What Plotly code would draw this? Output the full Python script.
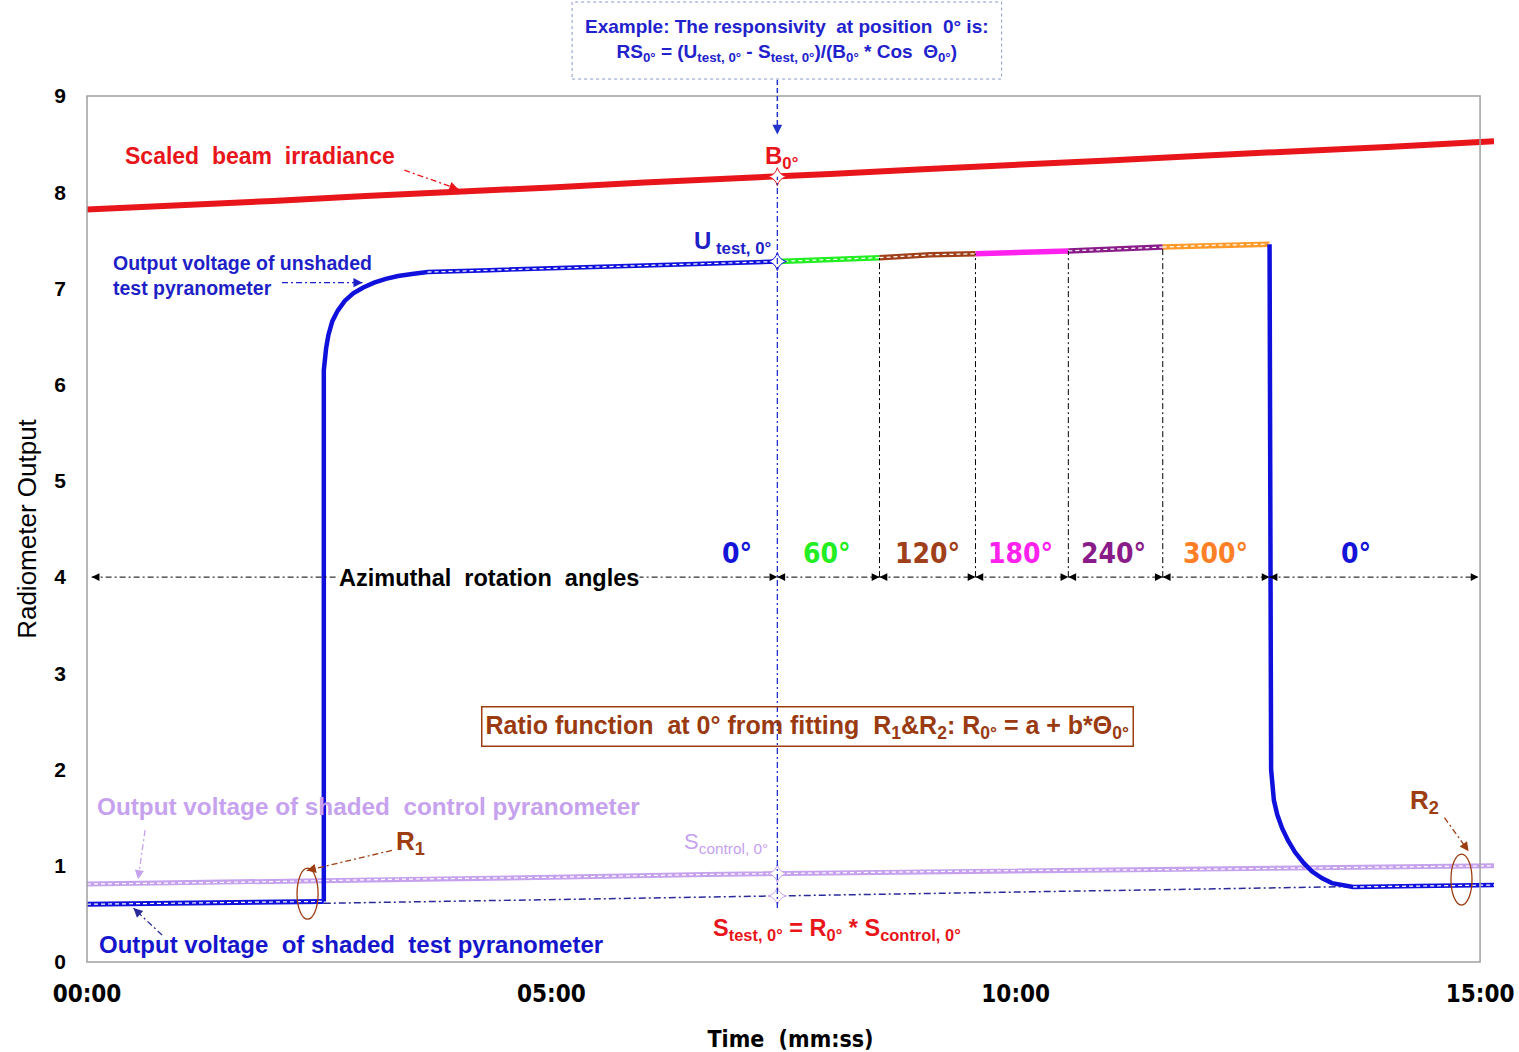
import numpy as np
import plotly.graph_objects as go

# ---------------------------------------------------------------------------
# Data (time in seconds from start of run, outputs in radiometer units)
# ---------------------------------------------------------------------------
beam_t = [0, 60, 120, 180, 240, 300, 360, 420, 480, 540, 600, 660, 720, 780, 840, 909]
beam_v = [7.82, 7.86, 7.91, 7.96, 8.00, 8.05, 8.10, 8.14, 8.19, 8.24, 8.28, 8.33, 8.38, 8.42, 8.47, 8.53]

ctrl_t = [0, 100, 200, 300, 400, 500, 600, 700, 800, 909]
ctrl_v = [0.81, 0.83, 0.86, 0.88, 0.91, 0.93, 0.95, 0.96, 0.98, 1.00]

shade1_t = [0, 60, 120, 153]
shade1_v = [0.60, 0.61, 0.62, 0.63]

rise_t = [153, 153, 154.5, 156, 158.5, 162, 166.5, 172, 178.5, 185.5, 193, 201, 210, 220,
          260, 300, 360, 420, 446]
rise_v = [0.63, 6.15, 6.38, 6.52, 6.66, 6.77, 6.87, 6.95, 7.01, 7.06, 7.10, 7.13, 7.15, 7.17,
          7.19, 7.21, 7.24, 7.27, 7.28]

seg_t = [[446, 480, 512], [512, 545, 574], [574, 604, 634], [634, 665, 695], [695, 730, 764]]
seg_v = [[7.28, 7.30, 7.32], [7.32, 7.35, 7.36], [7.36, 7.38, 7.39], [7.39, 7.41, 7.43], [7.43, 7.45, 7.46]]
seg_colors = ["#22EE22", "#A0401A", "#FF22EE", "#8A1C8A", "#FF9A2A"]

drop_t = [764, 765, 766.8, 769, 772.1, 776, 780.5, 786, 791.5, 798, 804.3, 811, 818, 860, 909]
drop_v = [7.46, 2.0, 1.68, 1.53, 1.39, 1.26, 1.14, 1.03, 0.94, 0.87, 0.82, 0.80, 0.78, 0.79, 0.80]

interp_t = [153, 822]
interp_v = [0.61, 0.785]

angle_bounds = [3, 446, 512, 574, 634, 695, 764, 899]
angle_labels = ["0°", "60°", "120°", "180°", "240°", "300°", "0°"]
angle_label_t = [420, 478, 543, 603, 663, 729, 820]
angle_label_colors = ["#1414D8", "#22EE22", "#A0401A", "#FF22EE", "#8A1C8A", "#FF7F27", "#1414D8"]

example_t = 446
x_max = 909
xtick_vals = [0, 300, 600, 900]
xtick_text = ["00:00", "05:00", "10:00", "15:00"]
ytick_vals = list(range(0, 10))

RED = "#E8151B"
BLUE = "#1010DD"
LAV = "#C6A2EE"
NAVY = "#2A2A9A"
BROWN = "#9C3D12"
COND = "DejaVu Sans Condensed, Liberation Sans Narrow, sans-serif"

fig = go.Figure()


def add_line(t, v, color, width, dash=None):
    fig.add_trace(go.Scatter(x=t, y=v, mode="lines",
                             line=dict(color=color, width=width, dash=dash),
                             hoverinfo="skip", showlegend=False))


# shaded control pyranometer
add_line(ctrl_t, ctrl_v, LAV, 5)
add_line(ctrl_t, ctrl_v, "white", 1.2, "4px,3px")
# fitted shaded-test baseline
add_line(interp_t, interp_v, NAVY, 1.5, "7px,3px,2px,3px")
# test pyranometer
add_line(shade1_t, shade1_v, BLUE, 5)
add_line(shade1_t, shade1_v, "white", 1.2, "4px,3px")
add_line(rise_t, rise_v, BLUE, 4.5)
add_line([t for t in rise_t if t >= 220], [v for t, v in zip(rise_t, rise_v) if t >= 220],
         "white", 1.2, "4px,3px")
for st, sv, c in zip(seg_t, seg_v, seg_colors):
    add_line(st, sv, c, 5.5)
    if c != "#FF22EE":
        add_line(st, sv, "white", 1.2, "4px,3px")
add_line(drop_t, drop_v, BLUE, 4.5)
add_line([t for t in drop_t if t >= 818], [v for t, v in zip(drop_t, drop_v) if t >= 818],
         "white", 1.2, "4px,3px")
# scaled beam irradiance
add_line(beam_t, beam_v, RED, 6)

# example points at 0°
b0 = float(np.interp(example_t, beam_t, beam_v))
u0 = float(np.interp(example_t, rise_t, rise_v))
s_ctrl0 = float(np.interp(example_t, ctrl_t, ctrl_v))
s_test0 = float(np.interp(example_t, interp_t, interp_v))
fig.add_trace(go.Scatter(
    x=[example_t] * 4, y=[b0, u0, s_ctrl0, s_test0], mode="markers",
    marker=dict(symbol="star-diamond", size=13, color="white",
                line=dict(width=1, color=[RED, BLUE, LAV, LAV])),
    hoverinfo="skip", showlegend=False))

shapes = []
annotations = []

# frame
frame_x1 = 900 / x_max
shapes.append(dict(type="rect", xref="paper", yref="paper", x0=0, x1=frame_x1, y0=0, y1=1,
                   line=dict(color="#A0A0A0", width=1.5), layer="above"))

# vertical guide through the 0° example
shapes.append(dict(type="line", xref="x", yref="y", x0=example_t, x1=example_t, y0=0.56, y1=b0,
                   line=dict(color="#2233CC", width=1.3, dash="6px,3px,2px,3px")))
# dashed lead from the example box down to B0
shapes.append(dict(type="line", xref="x", yref="paper", x0=example_t, x1=example_t, y0=1.0185, y1=0.965,
                   line=dict(color="#2233CC", width=1.5, dash="5px,3px")))
annotations.append(dict(x=example_t, y=8.6, xref="x", yref="y", ax=0, ay=-10, axref="pixel",
                        text="", showarrow=True, arrowhead=2, arrowsize=1.3, arrowwidth=1.5,
                        arrowcolor="#2233CC"))

# segment boundary guides
for st, sv in zip(seg_t[:-1], seg_v[:-1]):
    shapes.append(dict(type="line", xref="x", yref="y", x0=st[-1], x1=st[-1], y0=4.0, y1=sv[-1],
                       line=dict(color="black", width=1, dash="6px,3px,2px,3px")))

# azimuth double-arrows
for a, b in zip(angle_bounds[:-1], angle_bounds[1:]):
    shapes.append(dict(type="line", xref="x", yref="y", x0=a, x1=b, y0=4.0, y1=4.0,
                       line=dict(color="black", width=1, dash="6px,3px,2px,3px")))
    for tip, tail in ((a, a + 5), (b, b - 5)):
        annotations.append(dict(x=tip, y=4.0, ax=tail, ay=4.0, xref="x", yref="y", axref="x", ayref="y",
                                text="", showarrow=True, arrowhead=2, arrowsize=1.2, arrowwidth=1.3,
                                arrowcolor="black"))
annotations.append(dict(x=259.5, y=3.99, xref="x", yref="y", text="<b>Azimuthal  rotation  angles</b>",
                        showarrow=False, bgcolor="white", font=dict(size=23.5, color="black"), borderpad=0))
for lbl, lt, lc in zip(angle_labels, angle_label_t, angle_label_colors):
    annotations.append(dict(x=lt, y=4.25, xref="x", yref="y", text=f"<b>{lbl}</b>", showarrow=False,
                            font=dict(size=28, color=lc, family=COND)))


def dd_arrow(x0, y0, x1, y1, color):
    """dash-dot leader ending in an arrow head at (x1, y1)"""
    shapes.append(dict(type="line", xref="x", yref="y", x0=x0, y0=y0, x1=x1, y1=y1,
                       line=dict(color=color, width=1.3, dash="6px,3px,2px,3px")))
    annotations.append(dict(x=x1, y=y1, ax=x1 - (x1 - x0) * 0.12, ay=y1 - (y1 - y0) * 0.12,
                            xref="x", yref="y", axref="x", ayref="y", text="", showarrow=True,
                            arrowhead=2, arrowsize=1.3, arrowwidth=1.4, arrowcolor=color))


# beam irradiance label
annotations.append(dict(x=112, y=8.38, xref="x", yref="y", text="<b>Scaled  beam  irradiance</b>",
                        showarrow=False, font=dict(size=23, color=RED)))
dd_arrow(205, 8.23, 240, 8.03, RED)
annotations.append(dict(x=449, y=8.36, xref="x", yref="y", text="<b>B<sub>0°</sub></b>",
                        showarrow=False, font=dict(size=24, color=RED)))

# unshaded test label
annotations.append(dict(x=15.5, y=7.13, xref="x", yref="y", xanchor="left",
                        text="<b>Output voltage of unshaded<br>test pyranometer</b>", align="left",
                        showarrow=False, font=dict(size=19.5, color="#1F1FC8")))
dd_arrow(126, 7.06, 178, 7.06, "#1F1FC8")
annotations.append(dict(x=417, y=7.48, xref="x", yref="y", text="<b>U<sub> test, 0°</sub></b>",
                        showarrow=False, font=dict(size=24, color="#1F1FC8")))

# example formula box
shapes.append(dict(type="rect", xref="x", yref="paper", x0=313.4, x1=590.9, y0=1.0196, y1=1.1085,
                   line=dict(color="#8899CC", width=1, dash="dot")))
annotations.append(dict(x=452, y=1.064, xref="x", yref="paper", yanchor="middle",
                        text="<b>Example: The responsivity  at position  0° is:<br>"
                             "RS<sub>0°</sub> = (U<sub>test, 0°</sub> - S<sub>test, 0°</sub>)"
                             "/(B<sub>0°</sub> * Cos  Θ<sub>0°</sub>)</b>",
                        showarrow=False, font=dict(size=19, color="#2222CC")))

# ratio function box
annotations.append(dict(x=465.5, y=2.45, xref="x", yref="y",
                        text="<b>Ratio function  at 0° from fitting  R<sub>1</sub>&R<sub>2</sub>: "
                             "R<sub>0°</sub> = a + b*Θ<sub>0°</sub></b>",
                        showarrow=False, bordercolor=BROWN, borderwidth=1.5, borderpad=3,
                        font=dict(size=25, color="#9A3A10")))

# shaded control label
annotations.append(dict(x=5, y=1.62, xref="x", yref="y", xanchor="left",
                        text="<b>Output voltage of shaded  control pyranometer</b>",
                        showarrow=False, font=dict(size=24.3, color=LAV)))
dd_arrow(37.5, 1.37, 33, 0.86, LAV)

# shaded test label
annotations.append(dict(x=6.5, y=0.18, xref="x", yref="y", xanchor="left",
                        text="<b>Output voltage  of shaded  test pyranometer</b>",
                        showarrow=False, font=dict(size=24, color="#1515CC")))
dd_arrow(48.5, 0.28, 30, 0.56, NAVY)

# R1 / R2 ratio windows
annotations.append(dict(x=208.7, y=1.24, xref="x", yref="y", text="<b>R<sub>1</sub></b>",
                        showarrow=False, font=dict(size=26, color=BROWN)))
dd_arrow(197, 1.16, 142, 0.95, BROWN)
shapes.append(dict(type="circle", xref="x", yref="y", x0=135.7, x1=149.3, y0=0.445, y1=0.975,
                   line=dict(color=BROWN, width=1.3)))
annotations.append(dict(x=864, y=1.67, xref="x", yref="y", text="<b>R<sub>2</sub></b>",
                        showarrow=False, font=dict(size=26, color=BROWN)))
dd_arrow(877, 1.50, 892.6, 1.15, BROWN)
shapes.append(dict(type="circle", xref="x", yref="y", x0=881.2, x1=894.8, y0=0.592, y1=1.122,
                   line=dict(color=BROWN, width=1.3)))

# S labels
annotations.append(dict(x=441, y=1.24, xref="x", yref="y", xanchor="right",
                        text="S<sub>control, 0°</sub>", showarrow=False,
                        font=dict(size=22, color=LAV)))
annotations.append(dict(x=484.6, y=0.34, xref="x", yref="y",
                        text="<b>S<sub>test, 0°</sub> = R<sub>0°</sub> * S<sub>control, 0°</sub></b>",
                        showarrow=False, font=dict(size=23.5, color=RED)))

fig.update_layout(
    width=1519, height=1052,
    margin=dict(l=87, r=25, t=96, b=90),
    plot_bgcolor="white", paper_bgcolor="white",
    font=dict(family="Liberation Sans, Arial, sans-serif", color="black"),
    shapes=shapes, annotations=annotations,
    xaxis=dict(range=[0, x_max], tickvals=xtick_vals, ticktext=xtick_text, showgrid=False,
               zeroline=False, showline=False, ticks="", ticklabelstandoff=15, automargin=False,
               tickfont=dict(size=24, family=COND, weight="bold"),
               title=dict(text="<b>Time  (mm:ss)</b>", font=dict(size=23, family=COND), standoff=23)),
    yaxis=dict(range=[0, 9], tickvals=ytick_vals, showgrid=False, zeroline=False, showline=False,
               ticks="", ticklabelstandoff=20, automargin=False, tickfont=dict(size=21, weight="bold"),
               title=dict(text="Radiometer Output", font=dict(size=26), standoff=10)),
)

fig.write_html("out.html", post_script="document.body.style.margin='0';")
